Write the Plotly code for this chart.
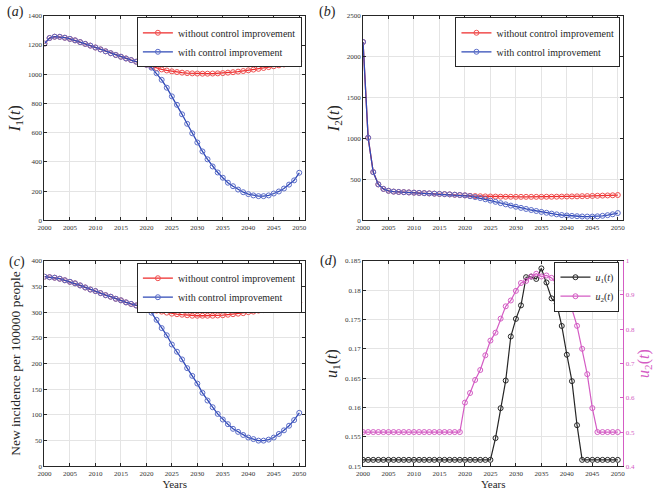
import plotly.graph_objects as go

years = list(range(2000, 2051))

# Panel (a): I1(t)
I1_without = [1210, 1248, 1257, 1256, 1250, 1242, 1232, 1220, 1208, 1196, 1183, 1170, 1157, 1144, 1132, 1120, 1108, 1097, 1086, 1075, 1065,
              1052, 1042, 1033, 1026, 1020, 1015, 1011, 1008, 1006, 1005, 1004, 1004, 1005, 1006, 1008, 1011, 1014, 1018, 1022, 1027,
              1032, 1037, 1043, 1049, 1055, 1061, 1067, 1074, 1081, 1090]
I1_with = [1210, 1248, 1257, 1256, 1250, 1242, 1232, 1220, 1208, 1196, 1183, 1170, 1157, 1144, 1132, 1120, 1108, 1097, 1086, 1075, 1065,
           1045, 1007, 962, 908, 849, 791, 726, 661, 596, 533, 472, 418, 369, 328, 292, 258, 234, 211, 193, 180,
           171, 166, 166, 171, 184, 198, 218, 245, 274, 326]

# Panel (b): I2(t)
I2_without = [2180, 1010, 590, 440, 385, 362, 352, 348, 345, 342, 339, 336, 333, 330, 327, 324, 321, 318, 314, 310, 306,
              300, 297, 295, 293, 292, 291, 290, 289, 289, 288, 288, 288, 288, 288, 288, 289, 289, 290, 291, 292,
              293, 294, 296, 297, 299, 301, 303, 305, 307, 310]
I2_with = [2180, 1010, 590, 440, 385, 362, 352, 348, 345, 342, 339, 336, 333, 330, 327, 324, 321, 318, 314, 310, 306,
           296, 285, 273, 258, 242, 227, 211, 196, 181, 167, 153, 140, 127, 115, 104, 93, 83, 74, 66, 60,
           55, 51, 48, 47, 47, 50, 56, 64, 75, 90]

# Panel (c): new incidence per 100000 people
inc_without = [369, 368, 367, 365, 362, 359, 356, 352, 348, 344, 341, 337, 333, 330, 326, 323, 319, 316, 313, 310, 308,
               305, 303, 301, 299, 297, 296, 295, 294, 293, 293, 293, 293, 293, 293.5, 294, 295, 296, 297, 298, 300,
               301, 303, 304, 306, 308, 310, 312, 314, 316, 319]
inc_with = [369, 368, 367, 365, 362, 359, 356, 352, 348, 344, 341, 337, 333, 330, 326, 323, 319, 316, 313, 310, 308,
            299, 285, 269, 255, 237, 223, 208, 191, 176, 161, 143, 128, 115, 102, 91, 82, 73, 67, 61, 56,
            53, 50, 50, 52, 56, 63, 70, 79, 90, 104]

# Panel (d): controls
u1 = [0.1511, 0.1511, 0.1511, 0.1511, 0.1511, 0.1511, 0.1511, 0.1511, 0.1511, 0.1511, 0.1511, 0.1511, 0.1511, 0.1511,
      0.1511, 0.1511, 0.1511, 0.1511, 0.1511, 0.1511, 0.1511, 0.1511, 0.1511, 0.1511, 0.1511, 0.1511,
      0.1548, 0.1599, 0.1646, 0.1721, 0.1751, 0.1774, 0.1822, 0.1823, 0.1819, 0.1837, 0.1813, 0.1786, 0.1777,
      0.1739, 0.1690, 0.1645, 0.1570, 0.1511, 0.1511, 0.1511, 0.1511, 0.1511, 0.1511, 0.1511, 0.1511]
u2 = [0.5, 0.5, 0.5, 0.5, 0.5, 0.5, 0.5, 0.5, 0.5, 0.5, 0.5, 0.5, 0.5, 0.5, 0.5, 0.5, 0.5, 0.5, 0.5, 0.5,
      0.586, 0.614, 0.652, 0.681, 0.724, 0.767, 0.790, 0.831, 0.867, 0.884, 0.912, 0.935, 0.941, 0.954, 0.962,
      0.954, 0.957, 0.950, 0.933, 0.914, 0.893, 0.859, 0.810, 0.743, 0.669, 0.570, 0.5, 0.5, 0.5, 0.5, 0.5]

name_without = "without control improvement"
name_with = "with control improvement"

RED = "#EE2A2A"
RED_M = "#F05050"
BLUE = "#2E48B6"
BLUE_M = "#5A6CC8"
BLACK = "#262626"
PINK = "#D45CC4"
FONT = "Liberation Serif"
W, H = 655, 490


def px_x(a, b):
    return [a / W, b / W]


def px_y(top, bottom):
    return [1 - bottom / H, 1 - top / H]


fig = go.Figure()


def add_pair(xa, ya, ywo, yw, leg):
    fig.add_trace(go.Scatter(x=years, y=ywo, name=name_without, mode="lines+markers",
                             line=dict(color=RED, width=1.3),
                             marker=dict(symbol="circle-open", size=5, color=RED_M, line=dict(width=1)),
                             xaxis=xa, yaxis=ya, legend=leg))
    fig.add_trace(go.Scatter(x=years, y=yw, name=name_with, mode="lines+markers",
                             line=dict(color=BLUE, width=1.3),
                             marker=dict(symbol="circle-open", size=5, color=BLUE_M, line=dict(width=1)),
                             xaxis=xa, yaxis=ya, legend=leg))


add_pair("x", "y", I1_without, I1_with, "legend")
add_pair("x2", "y2", I2_without, I2_with, "legend2")
add_pair("x3", "y3", inc_without, inc_with, "legend3")

fig.add_trace(go.Scatter(x=years, y=u1, name="<i>u</i><sub>1</sub>(<i>t</i>)", mode="lines+markers",
                         line=dict(color=BLACK, width=1.2),
                         marker=dict(symbol="circle-open", size=5, color=BLACK, line=dict(width=1)),
                         xaxis="x4", yaxis="y4", legend="legend4"))
fig.add_trace(go.Scatter(x=years, y=u2, name="<i>u</i><sub>2</sub>(<i>t</i>)", mode="lines+markers",
                         line=dict(color=PINK, width=1.2),
                         marker=dict(symbol="circle-open", size=5, color=PINK, line=dict(width=1)),
                         xaxis="x4", yaxis="y5", legend="legend4"))

tickfont = dict(family=FONT, size=7, color="#333333")
xtickvals = list(range(2000, 2051, 5))


def xaxis(domain, anchor, title=None):
    d = dict(domain=domain, anchor=anchor, range=[2000, 2051.1], tickvals=xtickvals,
             ticks="inside", ticklen=3, tickcolor=BLACK, showline=True, linecolor=BLACK, linewidth=1,
             mirror="ticks", showgrid=True, gridcolor="#E4E4E4", gridwidth=1, zeroline=False,
             tickfont=tickfont)
    if title:
        d["title"] = dict(text=title, font=dict(family=FONT, size=11, color=BLACK), standoff=2)
    return d


def yaxis(domain, anchor, rng, dtick, title, tsize, standoff, mirror="ticks", color=BLACK, side="left",
          overlaying=None, grid=True):
    d = dict(domain=domain, anchor=anchor, range=rng, dtick=dtick, tick0=rng[0],
             ticks="inside", ticklen=3, tickcolor=color, showline=True, linecolor=color, linewidth=1,
             mirror=mirror, showgrid=grid, gridcolor="#E4E4E4", gridwidth=1, zeroline=False,
             tickfont=dict(family=FONT, size=7, color=("#333333" if color == BLACK else color)),
             side=side,
             title=dict(text=title, font=dict(family=FONT, size=tsize, color=color), standoff=standoff))
    if overlaying:
        d["overlaying"] = overlaying
    return d


xa_a = px_x(38, 302)
xa_b = px_x(361, 625)
ya_top = px_y(12, 220)
ya_bot = px_y(261, 470)

fig.update_layout(
    width=W, height=H, margin=dict(l=0, r=0, t=0, b=0),
    paper_bgcolor="white", plot_bgcolor="white",
    font=dict(family=FONT, color=BLACK),
    xaxis=xaxis(xa_a, "y"),
    yaxis=yaxis(ya_top, "x", [0, 1400], 200, "<i>I</i><sub>1</sub>(<i>t</i>)", 16, 3),
    xaxis2=xaxis(xa_b, "y2"),
    yaxis2=yaxis(ya_top, "x2", [0, 2500], 500, "<i>I</i><sub>2</sub>(<i>t</i>)", 16, 3),
    xaxis3=xaxis(xa_a, "y3", "Years"),
    yaxis3=yaxis(ya_bot, "x3", [0, 400], 50, "New incidence per 100000 people", 13.5, 7),
    xaxis4=xaxis(xa_b, "y4", "Years"),
    yaxis4=yaxis(ya_bot, "x4", [0.15, 0.185], 0.005, "<i>u</i><sub>1</sub>(<i>t</i>)", 16, 3, mirror=False),
    yaxis5=yaxis(ya_bot, "x4", [0.4, 1.0], 0.1, "<i>u</i><sub>2</sub>(<i>t</i>)", 16, 3, mirror=False,
                 color=PINK, side="right", overlaying="y4", grid=False),
    showlegend=True,
)

leg_common = dict(bgcolor="white", bordercolor=BLACK, borderwidth=1,
                  font=dict(family=FONT, size=10, color=BLACK), xanchor="right", yanchor="top",
                  tracegroupgap=0, itemwidth=30)
fig.update_layout(
    legend=dict(x=299 / W, y=1 - 13.5 / H, **leg_common),
    legend2=dict(x=622 / W, y=1 - 13.5 / H, **leg_common),
    legend3=dict(x=299 / W, y=1 - 263 / H, **leg_common),
    legend4=dict(x=621 / W, y=1 - 262 / H, **leg_common),
)

for txt, cx, cy in [("(<i>a</i>)", 9, 8), ("(<i>b</i>)", 325, 8), ("(<i>c</i>)", 10, 262), ("(<i>d</i>)", 326, 261)]:
    fig.add_annotation(text=txt, x=cx / W, y=1 - cy / H, xref="paper", yref="paper",
                       showarrow=False, xanchor="center", yanchor="middle",
                       font=dict(family=FONT, size=14, color=BLACK))

fig.write_html("out.html", config={"displayModeBar": False},
               post_script="document.body.style.margin='0px';document.body.style.overflow='hidden';")
